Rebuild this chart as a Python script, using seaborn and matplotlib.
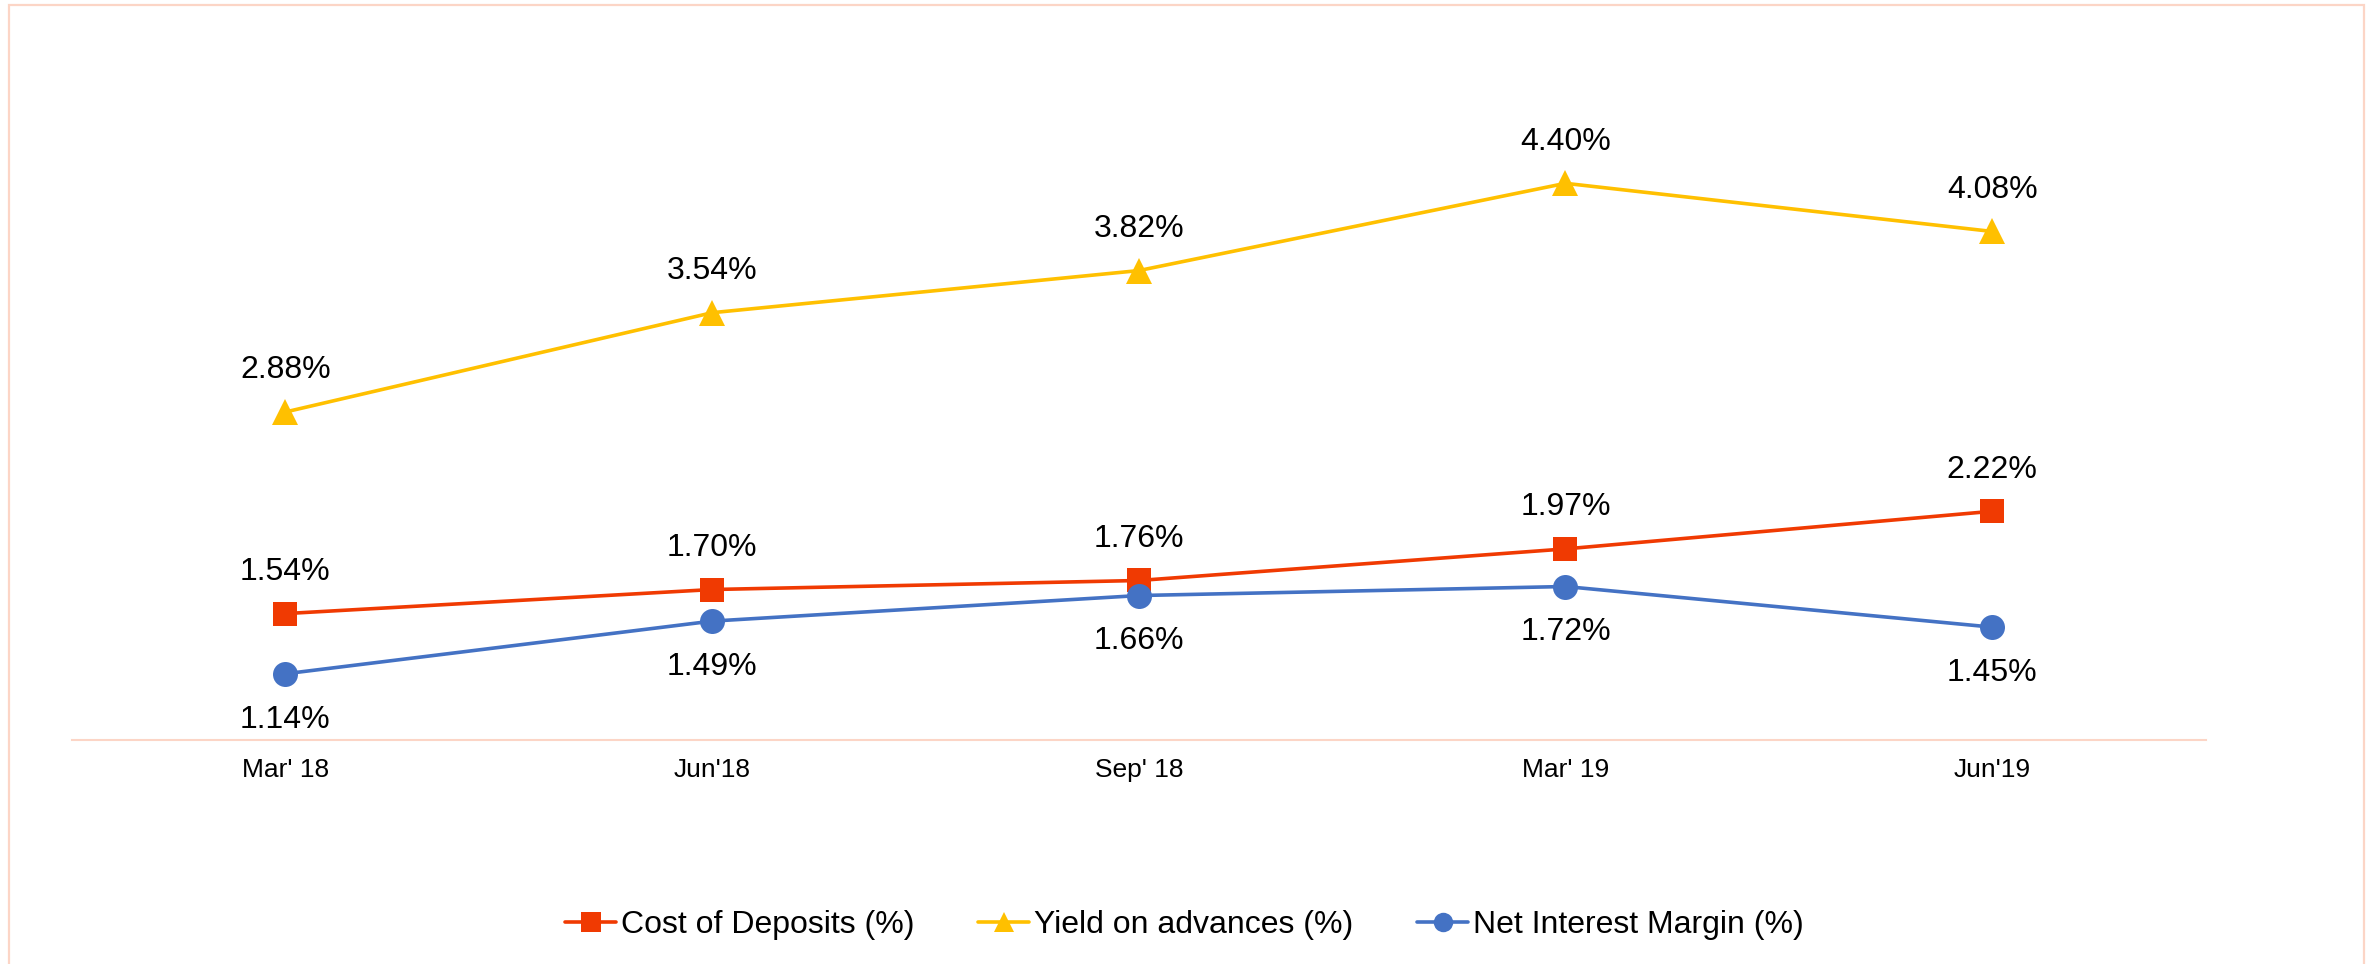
import numpy as np
import pandas as pd
import matplotlib
matplotlib.use("Agg")
import matplotlib.pyplot as plt
from matplotlib.lines import Line2D
from matplotlib.patches import Rectangle
import seaborn as sns

# quarters and ratios (%)
periods = ["Mar' 18", "Jun'18", "Sep' 18", "Mar' 19", "Jun'19"]
cost_of_deposits = [1.54, 1.70, 1.76, 1.97, 2.22]
yield_on_advances = [2.88, 3.54, 3.82, 4.40, 4.08]
net_interest_margin = [1.14, 1.49, 1.66, 1.72, 1.45]

series_names = ["Cost of Deposits (%)", "Yield on advances (%)", "Net Interest Margin (%)"]
series_vals = [cost_of_deposits, yield_on_advances, net_interest_margin]
colors = ["#F03A02", "#FFC000", "#4472C4"]
markers = ["s", "^", "o"]
msizes = [17, 19, 18]
label_offset = [30, 30, -33]  # points above / below the marker

sns.set_theme(style="white")
plt.rcParams["font.family"] = ["Liberation Sans", "DejaVu Sans"]

fig = plt.figure(figsize=(23.69, 9.64), dpi=100)
ax = fig.add_axes([0.0304, 0.2324, 0.9006, 0.7054])

x = np.arange(len(periods))
for name, vals, c, m, ms, off in zip(series_names, series_vals, colors, markers, msizes, label_offset):
    df = pd.DataFrame({"x": x, "y": vals})
    sns.lineplot(data=df, x="x", y="y", ax=ax, color=c, linewidth=2.6,
                 marker=m, markersize=ms, markeredgewidth=0, legend=False)
    for xi, v in zip(x, vals):
        ax.annotate(f"{v:.2f}%", (xi, v), xytext=(0, off), textcoords="offset points",
                    ha="center", va="center", fontsize=23, color="black")

ax.set_xlim(-0.5, len(periods) - 0.5)
ax.set_ylim(0.70, 5.22)
ax.set_xticks(x)
ax.set_xticklabels(periods, fontsize=19, color="black")
ax.tick_params(axis="x", length=0, pad=13)
ax.set_yticks([])
ax.set_xlabel("")
ax.set_ylabel("")
for s in ["top", "right", "left"]:
    ax.spines[s].set_visible(False)
ax.spines["bottom"].set_color("#FCD5C6")
ax.spines["bottom"].set_linewidth(1.5)

handles = [Line2D([0], [0], color=c, marker=m, markersize=14, markeredgewidth=0, linewidth=2.6)
           for c, m in zip(colors, markers)]
leg = fig.legend(handles, series_names, loc="center", bbox_to_anchor=(0.5, 0.04), ncol=3,
                 frameon=False, fontsize=23, handlelength=1.6, handletextpad=0.15, columnspacing=2.0)
for t in leg.get_texts():
    t.set_color("black")

# light outer frame
fig.patches.append(Rectangle((9 / 2369, -0.02), (2364 - 9) / 2369, 0.02 + (964 - 5) / 964,
                             transform=fig.transFigure, fill=False, edgecolor="#FCD5C6",
                             linewidth=1.6, clip_on=False))

fig.savefig("out.png", dpi=100)
